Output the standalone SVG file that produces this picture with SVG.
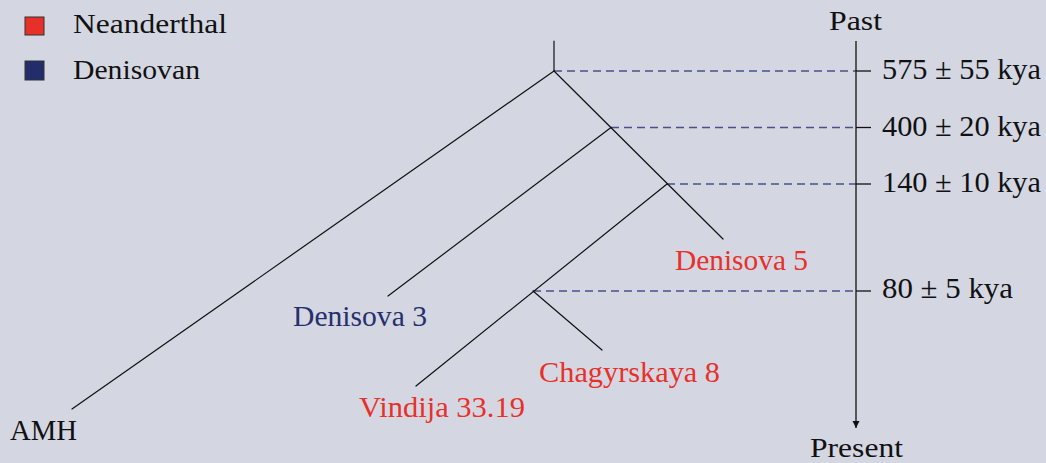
<svg xmlns="http://www.w3.org/2000/svg" width="1046" height="463" viewBox="0 0 1046 463">
  <defs>
    <style>
      .bg { fill: #d4d7e2; }
      .branch { stroke: #111; stroke-width: 1.2; fill: none; stroke-linecap: round; }
      .guide { stroke: #2f3a7a; stroke-opacity: 0.85; stroke-width: 1.3; stroke-dasharray: 8 5; fill: none; }
      .axis { stroke: #111; stroke-width: 1.3; fill: none; }
      .legend { font-size: 27px; }
      .time { font-size: 30px; }
      .leaf { font-size: 30px; }
      .nea { fill: #e8302a; }
      .den { fill: #27306c; }
    </style>
    <marker id="arrow" viewBox="0 0 10 10" refX="10" refY="5" markerWidth="7" markerHeight="10" markerUnits="userSpaceOnUse" orient="auto">
      <path d="M0,0 L10,5 L0,10 Z" fill="#111"/>
    </marker>
  </defs>

  <rect class="bg" x="0" y="0" width="1046" height="463"/>

  <g font-family="'Liberation Serif', 'DejaVu Serif', serif" fill="#111">
    <!-- legend -->
    <g id="legend">
      <rect x="25" y="17" width="19" height="18" fill="#e8302a" stroke="#333" stroke-width="1"/>
      <text class="legend" x="73" y="33" textLength="154" lengthAdjust="spacingAndGlyphs">Neanderthal</text>
      <rect x="25" y="61" width="19" height="19" fill="#232d6b" stroke="#333" stroke-width="1"/>
      <text class="legend" x="73" y="79" textLength="127" lengthAdjust="spacingAndGlyphs">Denisovan</text>
    </g>

    <!-- divergence-time guides and tree branches -->
    <g id="connectors">
      <line class="guide" x1="554" y1="71" x2="856" y2="71"/>
      <line class="guide" x1="611" y1="127.5" x2="856" y2="127.5"/>
      <line class="guide" x1="667" y1="184" x2="856" y2="184"/>
      <line class="guide" x1="533" y1="291" x2="856" y2="291"/>

      <line class="branch" x1="554" y1="41" x2="554" y2="71"/>
      <line class="branch" x1="554" y1="71" x2="72" y2="409"/>
      <line class="branch" x1="554" y1="71" x2="723" y2="239"/>
      <line class="branch" x1="611" y1="127.5" x2="388" y2="296"/>
      <line class="branch" x1="667" y1="184" x2="416" y2="386"/>
      <line class="branch" x1="533" y1="291" x2="602" y2="350"/>
    </g>

    <!-- time axis -->
    <g id="time-axis">
      <line class="axis" x1="856" y1="41" x2="856" y2="428" marker-end="url(#arrow)"/>
      <line class="axis" x1="856" y1="71" x2="871" y2="71"/>
      <line class="axis" x1="856" y1="127.5" x2="871" y2="127.5"/>
      <line class="axis" x1="856" y1="184" x2="871" y2="184"/>
      <line class="axis" x1="856" y1="291" x2="871" y2="291"/>
      <text class="legend" x="829" y="30" textLength="53" lengthAdjust="spacingAndGlyphs">Past</text>
      <text class="legend" x="810" y="457" textLength="93" lengthAdjust="spacingAndGlyphs">Present</text>
    </g>

    <g id="t575"><text class="time" x="882" y="79" textLength="159" lengthAdjust="spacingAndGlyphs">575 ± 55  kya</text></g>
    <g id="t400"><text class="time" x="882" y="136" textLength="159" lengthAdjust="spacingAndGlyphs">400 ± 20  kya</text></g>
    <g id="t140"><text class="time" x="882" y="192" textLength="159" lengthAdjust="spacingAndGlyphs">140 ± 10  kya</text></g>
    <g id="t80"><text class="time" x="882" y="298" textLength="131" lengthAdjust="spacingAndGlyphs">80 ± 5  kya</text></g>

    <!-- leaves -->
    <g id="amh"><text class="leaf" x="10" y="440" textLength="67" lengthAdjust="spacingAndGlyphs">AMH</text></g>
    <g id="denisova5"><text class="leaf nea" x="675" y="270" textLength="133" lengthAdjust="spacingAndGlyphs">Denisova 5</text></g>
    <g id="denisova3"><text class="leaf den" x="293" y="326" textLength="134" lengthAdjust="spacingAndGlyphs">Denisova 3</text></g>
    <g id="chagyrskaya8"><text class="leaf nea" x="539" y="382" textLength="181" lengthAdjust="spacingAndGlyphs">Chagyrskaya 8</text></g>
    <g id="vindija"><text class="leaf nea" x="359" y="417" textLength="166" lengthAdjust="spacingAndGlyphs">Vindija 33.19</text></g>
  </g>
</svg>
